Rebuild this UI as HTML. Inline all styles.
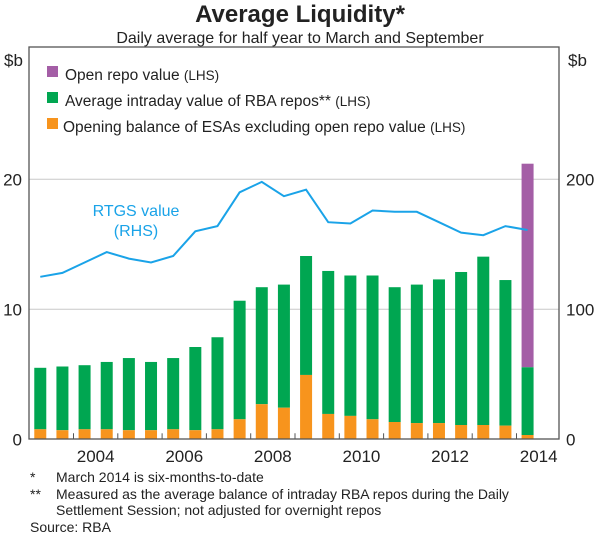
<!DOCTYPE html>
<html><head><meta charset="utf-8"><style>
body{margin:0;background:#fff;font-family:"Liberation Sans",Arial,sans-serif;}
svg text{font-family:"Liberation Sans",Arial,sans-serif;fill:#222;}
</style></head><body>
<svg id="chart" width="600" height="536" viewBox="0 0 600 536">
<text x="300" y="22" text-anchor="middle" font-size="24" font-weight="bold">Average Liquidity*</text>
<text x="300" y="43" text-anchor="middle" font-size="16">Daily average for half year to March and September</text>
<text x="4" y="66" font-size="17">$b</text>
<text x="568" y="66" font-size="17">$b</text>
<g id="grid"></g>
<g id="bars"></g>
<g id="line"></g>
<rect x="29" y="47" width="530" height="392" fill="none" stroke="#555" stroke-width="1.3"/>
<g id="axes"></g>
<text x="136" y="216" text-anchor="middle" font-size="16" style="fill:#1aa3e8">RTGS value</text>
<text x="136" y="236" text-anchor="middle" font-size="16" style="fill:#1aa3e8">(RHS)</text>
<g>
<rect x="47" y="66" width="11" height="11" fill="#a45ea6"/>
<text x="65" y="80" font-size="15.5">Open repo value <tspan font-size="13.5">(LHS)</tspan></text>
<rect x="47" y="92" width="11" height="11" fill="#00a651"/>
<text x="65" y="106" font-size="15.5">Average intraday value of RBA repos** <tspan font-size="13.5">(LHS)</tspan></text>
<rect x="47" y="118" width="11" height="11" fill="#f7941d"/>
<text x="63" y="132" font-size="15.5">Opening balance of ESAs excluding open repo value <tspan font-size="13.5">(LHS)</tspan></text>
</g>
<g font-size="14">
<text x="30" y="482">*</text><text x="56" y="482">March 2014 is six-months-to-date</text>
<text x="30" y="499">**</text><text x="56" y="499">Measured as the average balance of intraday RBA repos during the Daily</text>
<text x="56" y="515">Settlement Session; not adjusted for overnight repos</text>
<text x="30" y="532">Source: RBA</text>
</g>
</svg>
<script>
const periods=["Mar-03","Sep-03","Mar-04","Sep-04","Mar-05","Sep-05","Mar-06","Sep-06","Mar-07","Sep-07","Mar-08","Sep-08","Mar-09","Sep-09","Mar-10","Sep-10","Mar-11","Sep-11","Mar-12","Sep-12","Mar-13","Sep-13","Mar-14"];
const esaValues=[0.77,0.7,0.77,0.77,0.7,0.7,0.77,0.7,0.77,1.54,2.7,2.43,4.95,1.95,1.8,1.54,1.33,1.25,1.25,1.1,1.1,1.05,0.33];
const intradayTotals=[5.5,5.6,5.7,5.95,6.25,5.95,6.25,7.1,7.85,10.66,11.7,11.9,14.1,12.95,12.6,12.6,11.7,11.9,12.3,12.87,14.05,12.25,5.54];
const openRepoTotals=[0,0,0,0,0,0,0,0,0,0,0,0,0,0,0,0,0,0,0,0,0,0,21.2];
const rtgsValues=[125,128,136,144,139,136,141,160,164,190,198,187,192,167,166,176,175,175,167,159,157,164,161];
const leftTicks=[0,10,20];
const rightTicks=[0,100,200];
const yearLabels=[2004,2006,2008,2010,2012,2014];

const NS="http://www.w3.org/2000/svg";
const y0=439.3, pxL=13, pxR=1.3, yearPx=44.3, tick2004=73.5;
const yL=v=>y0-v*pxL, yR=v=>y0-v*pxR;
const xi=i=>tick2004+(i*0.5-0.75)*yearPx;
const xYear=y=>tick2004+(y-2004)*yearPx;
function mk(t,a,p){const e=document.createElementNS(NS,t);for(const k in a)e.setAttribute(k,a[k]);p.appendChild(e);return e;}
const grid=document.getElementById('grid'),bars=document.getElementById('bars'),axes=document.getElementById('axes'),line=document.getElementById('line');
leftTicks.forEach(v=>{
  if(v>0){const g=mk('line',{x1:29,x2:559,y1:yL(v),y2:yL(v),stroke:'#c8c8c8','stroke-width':1},grid);
  
  }
  const t=mk('text',{x:22,y:yL(v)+6,'text-anchor':'end','font-size':17},axes);t.textContent=v;
  
  
});
rightTicks.forEach(v=>{
  const t=mk('text',{x:566,y:yR(v)+6,'font-size':17},axes);t.textContent=v;
  
  
});
for(let y=2004;y<=2014;y++){
  const l=mk('line',{x1:xYear(y),x2:xYear(y),y1:y0,y2:y0-6,stroke:'#555','stroke-width':1},axes);
  
  
}
yearLabels.forEach(y=>{
  const t=mk('text',{x:xYear(y)+yearPx/2,y:462,'text-anchor':'middle','font-size':17},axes);t.textContent=y;
  
  
});
const bw=12;
periods.forEach((p,i)=>{
  const x=xi(i)-bw/2;
  if(openRepoTotals[i]>0){const r=mk('rect',{x:x,y:yL(openRepoTotals[i]),width:bw,height:(openRepoTotals[i]-intradayTotals[i])*pxL,fill:'#a45ea6'},bars);
  
  }
  const g=mk('rect',{x:x,y:yL(intradayTotals[i]),width:bw,height:(intradayTotals[i]-esaValues[i])*pxL,fill:'#00a651'},bars);
  
  
  const o=mk('rect',{x:x,y:yL(esaValues[i]),width:bw,height:esaValues[i]*pxL,fill:'#f7941d'},bars);
  
  
});
const pl=mk('polyline',{points:rtgsValues.map((v,i)=>xi(i)+','+yR(v)).join(' '),fill:'none',stroke:'#1aa3e8','stroke-width':2},line);


</script>
</body></html>
